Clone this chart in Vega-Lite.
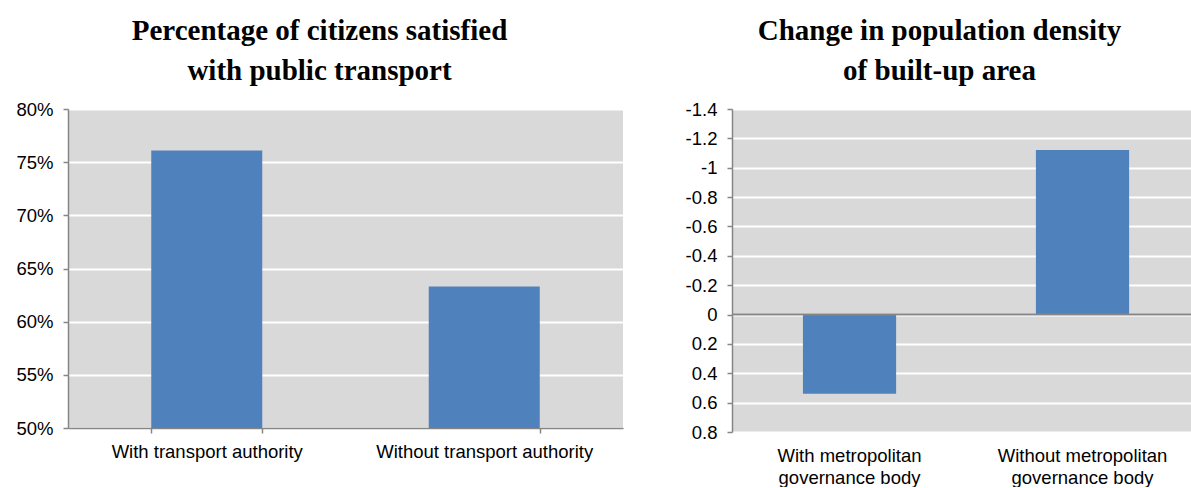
{
  "$schema": "https://vega.github.io/schema/vega-lite/v6.json",
  "padding": {"left": 5, "right": 0, "top": 17, "bottom": 0},
  "spacing": 49,
  "config": {
    "view": {"fill": "#d9d9d9", "stroke": null},
    "title": {"font": "Liberation Serif", "fontSize": 29, "fontWeight": "bold", "color": "#000000", "lineHeight": 40, "anchor": "middle", "offset": 14},
    "axis": {"labelFont": "Liberation Sans", "labelFontSize": 18.5, "labelColor": "#000000", "domainColor": "#868686", "tickColor": "#868686", "domainWidth": 1.5, "tickWidth": 1.5, "title": null, "labelLimit": 0, "labelOverlap": false}
  },
  "hconcat": [
    {
      "width": 555,
      "height": 319,
      "title": {"text": ["Percentage of citizens satisfied", "with public transport"], "dx": -26},
      "data": {"values": [
        {"group": "With transport authority", "satisfied": 76.1},
        {"group": "Without transport authority", "satisfied": 63.3}
      ]},
      "mark": {"type": "bar", "color": "#4f81bd"},
      "encoding": {
        "x": {"field": "group", "type": "nominal", "sort": null,
          "scale": {"paddingInner": 0.6, "paddingOuter": 0.3},
          "axis": {"labelAngle": 0, "tickBand": "extent", "tickSize": 5, "labelPadding": 9, "grid": false}},
        "y": {"field": "satisfied", "type": "quantitative",
          "scale": {"domain": [50, 80], "nice": false, "zero": false},
          "axis": {"values": [50, 55, 60, 65, 70, 75, 80], "labelExpr": "datum.value + '%'", "labelOverlap": false, "grid": true, "gridColor": "#ffffff", "gridWidth": 2, "tickSize": 5, "labelPadding": 10, "minExtent": 63, "maxExtent": 63}},
        "y2": {"datum": 50}
      }
    },
    {
      "width": 459,
      "height": 323,
      "title": {"text": ["Change in population density", "of built-up area"], "dx": -22},
      "data": {"values": [
        {"group": "With metropolitan governance body", "change": 0.54},
        {"group": "Without metropolitan governance body", "change": -1.12}
      ]},
      "layer": [
        {
          "mark": {"type": "bar", "color": "#4f81bd"},
          "encoding": {
            "x": {"field": "group", "type": "nominal", "sort": null,
              "scale": {"paddingInner": 0.6, "paddingOuter": 0.285, "align": 0.534},
              "axis": {"labelAngle": 0, "domain": false, "ticks": false, "labelPadding": 14, "labelLineHeight": 22, "grid": false,
                "labelExpr": "datum.label == 'With metropolitan governance body' ? ['With metropolitan', 'governance body'] : ['Without metropolitan', 'governance body']"}},
            "y": {"field": "change", "type": "quantitative",
              "scale": {"domain": [-1.4, 0.8], "nice": false, "zero": false, "reverse": true},
              "axis": {"values": [-1.4, -1.2, -1, -0.8, -0.6, -0.4, -0.2, 0, 0.2, 0.4, 0.6, 0.8], "labelExpr": "toString(round(datum.value * 10) / 10)", "labelOverlap": false, "labelSeparation": 0, "grid": true, "gridColor": "#ffffff", "gridWidth": 2, "tickSize": 5, "labelPadding": 10, "minExtent": 60, "maxExtent": 60}}
          }
        },
        {
          "mark": {"type": "rule", "color": "#868686", "strokeWidth": 1.5},
          "encoding": {
            "y": {"datum": 0, "type": "quantitative",
              "axis": {"values": [-1.4, -1.2, -1, -0.8, -0.6, -0.4, -0.2, 0, 0.2, 0.4, 0.6, 0.8], "labelExpr": "toString(round(datum.value * 10) / 10)", "labelOverlap": false, "labelSeparation": 0, "grid": true, "gridColor": "#ffffff", "gridWidth": 2, "tickSize": 5, "labelPadding": 10, "minExtent": 60, "maxExtent": 60}}
          }
        }
      ]
    }
  ]
}
